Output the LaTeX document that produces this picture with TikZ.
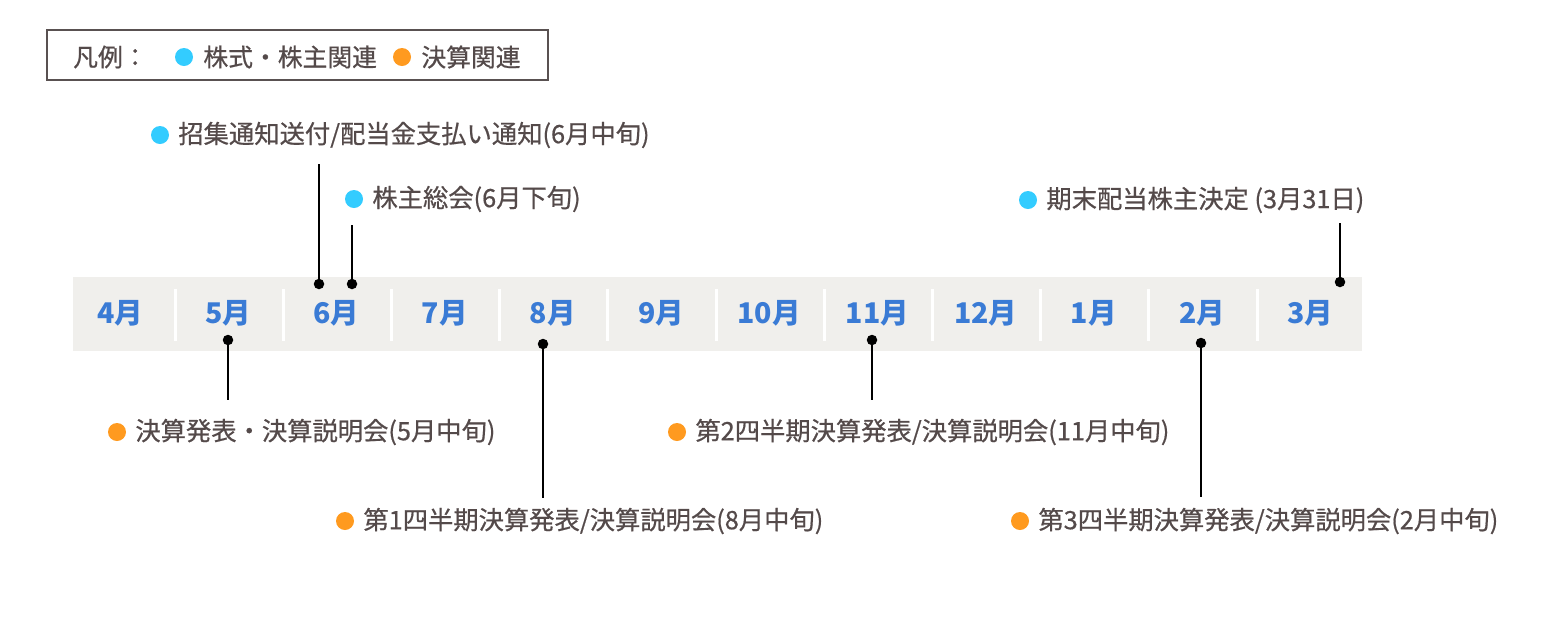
\documentclass[tikz,border=0pt]{standalone}
\usepackage{fontspec}
\setmainfont{Noto Sans CJK JP}
\newfontfamily\jpmed{Noto Sans CJK JP}[FakeBold=0.6]
\usetikzlibrary{positioning}
\definecolor{cBar}{HTML}{F0EFEC}
\definecolor{cMonth}{HTML}{3A7BD5}
\definecolor{cStock}{HTML}{33CCFF}
\definecolor{cSettle}{HTML}{FF9A1F}
\definecolor{cInk}{HTML}{544A4A}
\definecolor{cFrame}{HTML}{595151}
\tikzset{
  month/.style ={font=\fontsize{28.5}{32}\selectfont\bfseries,text=cMonth,inner sep=0pt},
  evt/.style   ={font=\jpmed\fontsize{25.3}{30}\selectfont,text=cInk,inner sep=0pt,anchor=west},
  legtxt/.style={evt,font=\jpmed\fontsize{24.8}{30}\selectfont},
  sdot/.style  ={circle,fill=cStock,inner sep=0pt,minimum size=18pt},
  odot/.style  ={circle,fill=cSettle,inner sep=0pt,minimum size=18pt},
  pin/.style   ={circle,fill=black,inner sep=0pt,minimum size=10.5pt},
  stem/.style  ={line width=2.2pt,black},
  sep/.style   ={line width=3pt,white},
}
\begin{document}
\begin{tikzpicture}[x=1pt,y=-1pt]
\useasboundingbox (0,0) rectangle (1555,625);
% legend
\draw[cFrame,line width=2pt] (47,30) rectangle (548,80);
\node[legtxt] (leg) at (73,57) {凡例：};
\node[sdot] (legs) at (184,57) {};
\node[legtxt,right=10pt of legs] (legst) {株式・株主関連};
\node[odot] (lego) at (402,57) {};
\node[legtxt,right=10pt of lego] (legot) {決算関連};
% month bar
\fill[cBar] (73,277) rectangle (1362,351);
\foreach \i in {0,...,10}{\draw[sep] ({175+108.2*\i},289) -- ({175+108.2*\i},341);}
\foreach \m [count=\i from 0] in {4,5,6,7,8,9,10,11,12,1,2,3}
  {\node[month] (m\m) at ({120+108.2*\i},313) {\m 月};}
% stock events (above)
\node[sdot] (ds1) at (160,135) {};
\node[evt,right=9pt of ds1] (es1) {招集通知送付/配当金支払い通知(6月中旬)};
\coordinate (ts1) at (319,164);
\node[pin] (ps1) at (319,284) {};
\draw[stem] (ts1) -- (ps1);
\node[sdot] (ds2) at (354,199) {};
\node[evt,right=9pt of ds2] (es2) {株主総会(6月下旬)};
\coordinate (ts2) at (352,225);
\node[pin] (ps2) at (352,284) {};
\draw[stem] (ts2) -- (ps2);
\node[sdot] (ds3) at (1028,200) {};
\node[evt,right=9pt of ds3] (es3) {期末配当株主決定 (3月31日)};
\coordinate (ts3) at (1340,223);
\node[pin] (ps3) at (1340,282) {};
\draw[stem] (ts3) -- (ps3);
% settlement events (below)
\node[pin] (po1) at (228,340) {};
\coordinate (to1) at (228,400);
\draw[stem] (po1) -- (to1);
\node[odot] (do1) at (117,432) {};
\node[evt,right=9pt of do1] (eo1) {決算発表・決算説明会(5月中旬)};
\node[pin] (po2) at (543,344) {};
\coordinate (to2) at (543,498);
\draw[stem] (po2) -- (to2);
\node[odot] (do2) at (345,521) {};
\node[evt,right=9pt of do2] (eo2) {第1四半期決算発表/決算説明会(8月中旬)};
\node[pin] (po3) at (872,340) {};
\coordinate (to3) at (872,400);
\draw[stem] (po3) -- (to3);
\node[odot] (do3) at (677,432) {};
\node[evt,right=9pt of do3] (eo3) {第2四半期決算発表/決算説明会(11月中旬)};
\node[pin] (po4) at (1201,343) {};
\coordinate (to4) at (1201,497);
\draw[stem] (po4) -- (to4);
\node[odot] (do4) at (1020,521) {};
\node[evt,right=9pt of do4] (eo4) {第3四半期決算発表/決算説明会(2月中旬)};
\end{tikzpicture}
\end{document}
